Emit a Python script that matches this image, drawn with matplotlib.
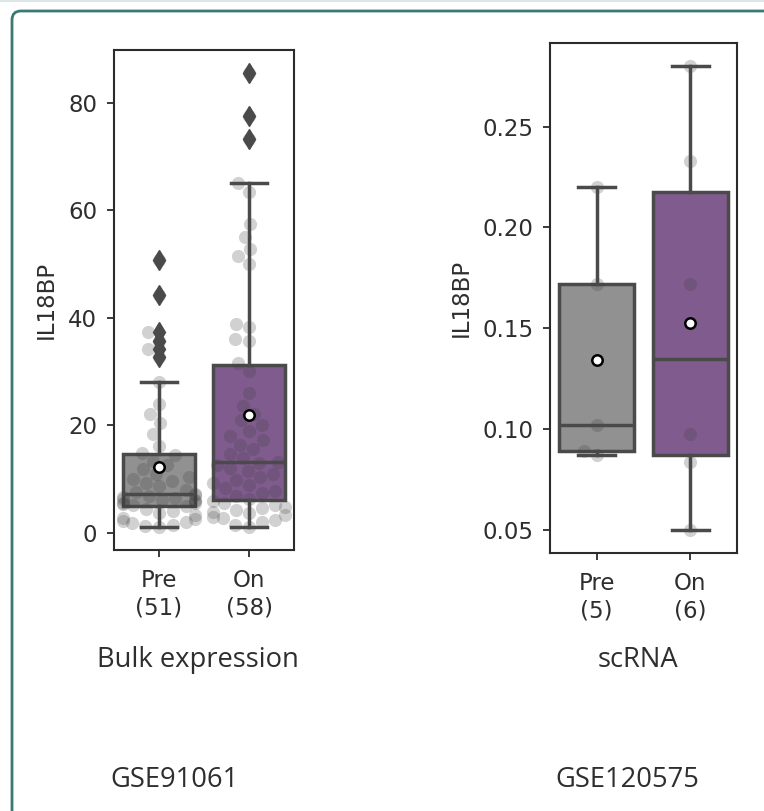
import matplotlib
matplotlib.use("Agg")
import matplotlib.pyplot as plt
import numpy as np
import pandas as pd
import seaborn as sns
from matplotlib.patches import FancyBboxPatch
from matplotlib.lines import Line2D

# ---------------- data ----------------
groups = ["Pre", "On"]

bulk_pre = [1.0, 1.2, 1.5, 1.8, 2.0, 2.2, 2.5, 2.8, 3.2, 3.6, 4.0, 4.4, 4.9,
            5.1, 5.3, 5.5, 5.6, 5.8, 6.0, 6.1, 6.3, 6.5, 6.6, 6.8, 7.0,
            7.1,
            7.5, 8.0, 8.6, 9.2, 9.6, 9.9, 10.4, 11.0, 11.8, 12.6, 13.4, 14.5,
            14.9, 16.1, 18.3, 20.4, 22.0, 24.0, 28.1,
            32.6, 34.2, 35.7, 37.3, 44.3, 50.8]

bulk_on = [1.0, 1.5, 2.0, 2.4, 2.7, 3.0, 3.3, 3.6, 3.9, 4.2, 4.5, 4.8, 5.1, 5.5, 5.9,
           6.3, 6.8, 7.3, 7.8, 8.3, 8.8, 9.3, 9.8, 10.3, 10.9, 11.5, 12.0, 12.5, 13.0,
           13.2, 13.8, 14.6, 15.5, 16.4, 17.2, 18.0, 19.0, 20.0, 21.0, 22.0, 23.5, 26.0, 30.0,
           31.6, 35.7, 36.0, 38.2, 38.9, 50.0, 51.5, 52.8, 55.1, 57.4, 63.4, 65.0,
           73.2, 77.5, 85.6]

sc_pre = [0.087, 0.089, 0.102, 0.172, 0.220]
sc_on = [0.050, 0.0837, 0.0977, 0.1721, 0.233, 0.280]

bulk_yticks = [0, 20, 40, 60, 80]
sc_yticks = [0.05, 0.10, 0.15, 0.20, 0.25]

panel_titles = ["Bulk expression", "scRNA"]
dataset_ids = ["GSE91061", "GSE120575"]
ylabel = "IL18BP"

# ---------------- style ----------------
W, H = 764, 811
DPI = 100
box_colors = ["#919191", "#805b8e"]
line_c = "#4a4a4a"
line_w = 2.5
spine_c = "#2b2b2b"
tick_fs = 16.5
text_c = "#2e2e2e"
text_font = ["Open Sans", "DejaVu Sans"]

fig = plt.figure(figsize=(W / DPI, H / DPI), dpi=DPI)
fig.patch.set_facecolor("white")


def px_axes(l, t, r, b):
    return fig.add_axes([l / W, 1 - b / H, (r - l) / W, (b - t) / H])


def draw_panel(ax, pre, on, yticks, ylabel_x):
    vals = [pre, on]
    xs = [float(i) for i in range(len(groups))]
    df = pd.DataFrame({
        "x": np.concatenate([[xs[i]] * len(v) for i, v in enumerate(vals)]),
        "v": np.concatenate(vals),
    })
    bp = ax.boxplot(vals, positions=xs, widths=0.8, whis=1.5, patch_artist=True,
                    showmeans=True, capwidths=0.4,
                    boxprops=dict(edgecolor=line_c, linewidth=line_w),
                    whiskerprops=dict(color=line_c, linewidth=line_w),
                    capprops=dict(color=line_c, linewidth=line_w),
                    medianprops=dict(color=line_c, linewidth=line_w),
                    flierprops=dict(marker="d", markerfacecolor=line_c,
                                    markeredgecolor=line_c, markersize=10.5),
                    meanprops=dict(marker="o", markerfacecolor="white",
                                   markeredgecolor="black", markersize=7.5,
                                   markeredgewidth=1.8))
    for patch, c in zip(bp["boxes"], box_colors):
        patch.set_facecolor(c)
        patch.set_zorder(1)
    for key in ["whiskers", "caps", "medians", "fliers"]:
        for ln in bp[key]:
            ln.set_zorder(3)
    for ln in bp["means"]:
        ln.set_zorder(5)

    sns.swarmplot(data=df, x="x", y="v", native_scale=True, ax=ax,
                  color="#404040", alpha=0.24, size=9.5, zorder=2, linewidth=0)

    ax.set_xlim(-0.5, 1.5)
    ax.set_xticks(xs)
    ax.set_xticklabels([f"{g}\n({len(v)})" for g, v in zip(groups, vals)],
                       fontsize=tick_fs, family="DejaVu Sans")
    ax.set_yticks(yticks)
    ax.tick_params(axis="y", labelsize=tick_fs, length=5, width=1.3,
                   color=spine_c, labelcolor=text_c, pad=7)
    ax.tick_params(axis="x", labelsize=tick_fs, length=5, width=1.3,
                   color=spine_c, labelcolor=text_c, pad=9)
    ax.set_xlabel("")
    ax.set_ylabel(ylabel, fontsize=tick_fs, color=text_c, family="DejaVu Sans")
    ax.yaxis.set_label_coords(ylabel_x, 0.5)
    for lab in ax.get_yticklabels():
        lab.set_family("DejaVu Sans")
    for s in ax.spines.values():
        s.set_color(spine_c)
        s.set_linewidth(1.5)


ax1 = px_axes(114, 50, 294, 550)
draw_panel(ax1, bulk_pre, bulk_on, bulk_yticks, -0.31)
lo, hi = min(bulk_pre + bulk_on), max(bulk_pre + bulk_on)
ax1.set_ylim(lo - 0.05 * (hi - lo), hi + 0.05 * (hi - lo))

ax2 = px_axes(550, 43, 737, 553)
draw_panel(ax2, sc_pre, sc_on, sc_yticks, -0.415)
lo, hi = min(sc_pre + sc_on), max(sc_pre + sc_on)
ax2.set_ylim(lo - 0.05 * (hi - lo), hi + 0.05 * (hi - lo))

# bottom texts
for x, t in zip([198, 638], panel_titles):
    fig.text(x / W, 1 - 667 / H, t, ha="center", va="baseline",
             fontsize=19.7, family=text_font, color=text_c)
for x, t in zip([174, 627], dataset_ids):
    fig.text(x / W, 1 - 787 / H, t, ha="center", va="baseline",
             fontsize=19.7, family=text_font, color=text_c)

# outer rounded frame (extends beyond right/bottom edge)
frame = FancyBboxPatch((12, -30), 800, H - 11 + 30,
                       boxstyle="round,pad=0,rounding_size=9",
                       transform=None, facecolor="none",
                       edgecolor="#3b7a73", linewidth=2.0, zorder=10)
fig.patches.append(frame)
fig.lines.append(Line2D([0, W], [H - 0.6, H - 0.6], transform=None,
                        color="#d6e2df", linewidth=1.2))

fig.savefig("out.png", dpi=DPI)
